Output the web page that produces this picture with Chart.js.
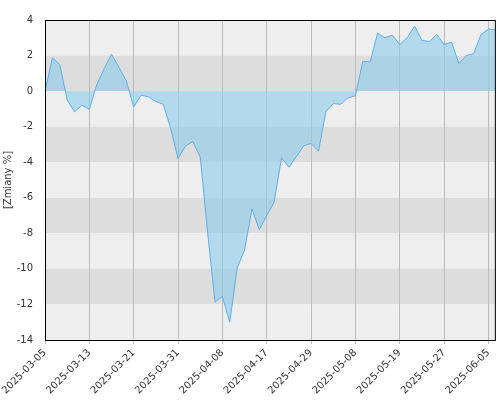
<!DOCTYPE html><html><head><script src="https://cdn.jsdelivr.net/npm/chart.js"></script>
<style>body{margin:0;background:#fff}#w{width:500px;height:400px}</style></head><body><div id="w"><canvas id="c"></canvas></div><script>
const labels=["2025-03-05","2025-03-06","2025-03-07","2025-03-10","2025-03-11","2025-03-12","2025-03-13","2025-03-14","2025-03-17","2025-03-18","2025-03-19","2025-03-20","2025-03-21","2025-03-24","2025-03-25","2025-03-26","2025-03-27","2025-03-28","2025-03-31","2025-04-01","2025-04-02","2025-04-03","2025-04-04","2025-04-07","2025-04-08","2025-04-09","2025-04-10","2025-04-11","2025-04-14","2025-04-15","2025-04-17","2025-04-22","2025-04-23","2025-04-24","2025-04-25","2025-04-28","2025-04-29","2025-04-30","2025-05-02","2025-05-05","2025-05-06","2025-05-07","2025-05-08","2025-05-09","2025-05-12","2025-05-13","2025-05-14","2025-05-16","2025-05-19","2025-05-20","2025-05-21","2025-05-22","2025-05-23","2025-05-26","2025-05-27","2025-05-28","2025-05-29","2025-05-30","2025-06-02","2025-06-03","2025-06-05","2025-06-06"];
const values=[0,1.87,1.49,-0.49,-1.17,-0.79,-1.02,0.36,1.25,2.08,1.34,0.58,-0.89,-0.23,-0.32,-0.58,-0.74,-2.09,-3.79,-3.09,-2.85,-3.70,-7.94,-11.87,-11.55,-13.0,-9.96,-8.94,-6.62,-7.79,-7.0,-6.25,-3.75,-4.28,-3.70,-3.08,-2.94,-3.38,-1.17,-0.70,-0.74,-0.38,-0.26,1.68,1.64,3.26,3.0,3.15,2.62,3.0,3.66,2.85,2.79,3.19,2.62,2.75,1.55,2.0,2.11,3.19,3.49,3.45];
const yTicks=[4,2,0,-2,-4,-6,-8,-10,-12,-14];
const bands={id:'bands',beforeDraw(ch){const {ctx,chartArea:a,scales:{y}}=ch;ctx.save();
for(let v=4;v>-14;v-=2){const t=y.getPixelForValue(v),b=y.getPixelForValue(v-2);ctx.fillStyle=((4-v)/2)%2===0?'#eeeeee':'#dddddd';ctx.fillRect(a.left,t,a.right-a.left,b-t);}ctx.restore();},
afterDraw(ch){const {ctx,chartArea:a,scales:{y}}=ch;ctx.save();ctx.strokeStyle='#000';ctx.lineWidth=1;ctx.strokeRect(a.left+0.5,a.top+0.5,a.right-a.left-1,a.bottom-a.top);ctx.restore();}};
new Chart(document.getElementById('c'),{type:'line',data:{labels,datasets:[{data:values,borderColor:'#5eaeea',borderWidth:1,backgroundColor:'rgba(140,205,235,0.6)',fill:'origin',pointRadius:0,tension:0}]},
options:{responsive:true,maintainAspectRatio:false,animation:false,layout:{padding:{top:20,right:3,left:0,bottom:0}},plugins:{legend:{display:false},tooltip:{enabled:false}},
scales:{x:{offset:false,afterFit(s){s.height=60;},grid:{color:'#bbbbbb',drawTicks:true,tickLength:4},border:{display:false},ticks:{autoSkip:false,maxRotation:45,minRotation:45,color:'#333',font:{family:'DejaVu Sans',size:10},callback(v,i){return i%6===0?labels[i]:null;}}},
y:{min:-14,max:4,afterFit(s){s.width=45;},afterBuildTicks(s){s.ticks=yTicks.map(v=>({value:v}));},grid:{display:false},border:{display:false},title:{display:true,text:'[Zmiany %]',color:'#333',font:{family:'DejaVu Sans',size:10},padding:2},ticks:{color:'#333',font:{family:'DejaVu Sans',size:10},padding:4}}}},plugins:[bands]});
</script></body></html>
